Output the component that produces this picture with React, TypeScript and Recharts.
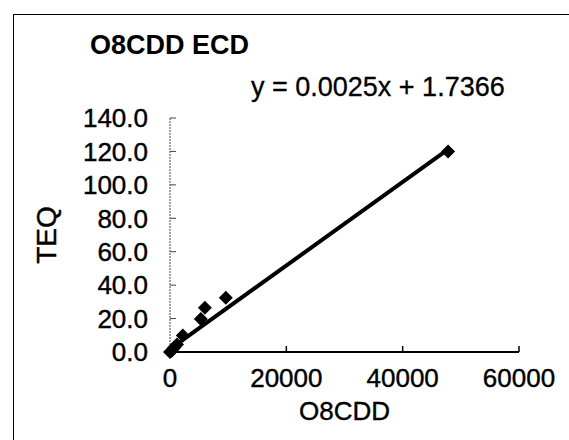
import { Scatter, ScatterChart, XAxis, YAxis } from "recharts";

const O8CDD = [0, 300, 700, 1200, 2200, 5300, 6000, 9600, 47800];
const TEQ = [0, 0.8, 2.5, 4.5, 9.8, 19.7, 26.5, 32.5, 120];
const SLOPE = 0.0025;
const INTERCEPT = 1.7366;
const TREND_X = [0, 47800];
const X_TICKS = [0, 20000, 40000, 60000];
const Y_TICKS = [0, 20, 40, 60, 80, 100, 120, 140];

const points = O8CDD.map((x, i) => ({ x, y: TEQ[i] }));
const trend = TREND_X.map((x) => ({ x, y: SLOPE * x + INTERCEPT }));

const FONT = "'Liberation Sans', Arial, sans-serif";
const tickStyle = {
  fill: "#000",
  fontSize: 26,
  fontFamily: FONT,
  stroke: "#000",
  strokeWidth: 0.4,
};

function Diamond(props: { cx?: number; cy?: number }) {
  const { cx = 0, cy = 0 } = props;
  const r = 7;
  return (
    <polygon
      points={`${cx},${cy - r} ${cx + r},${cy} ${cx},${cy + r} ${cx - r},${cy}`}
      fill="#000"
    />
  );
}

export default function App() {
  return (
    <div
      style={{
        position: "absolute",
        left: 0,
        top: 0,
        width: 569,
        height: 440,
        overflow: "hidden",
        background: "#fff",
        fontFamily: FONT,
      }}
    >
      <div
        style={{
          position: "absolute",
          left: 13,
          top: 14,
          width: 600,
          height: 500,
          borderLeft: "1.5px solid #000",
          borderTop: "1.5px solid #000",
        }}
      />
      <div
        style={{
          position: "absolute",
          left: 90,
          top: 29,
          fontSize: 27,
          fontWeight: "bold",
          lineHeight: "32px",
        }}
      >
        O8CDD ECD
      </div>
      <div
        style={{
          position: "absolute",
          left: 251,
          top: 71,
          fontSize: 27,
          lineHeight: "32px",
          WebkitTextStroke: "0.3px #000",
        }}
      >
        y = 0.0025x + 1.7366
      </div>
      <ScatterChart
        width={569}
        height={440}
        margin={{ top: 118, right: 50, bottom: 58, left: 40 }}
        style={{ position: "absolute", left: 0, top: 0 }}
      >
        <XAxis
          type="number"
          dataKey="x"
          domain={[0, 60000]}
          ticks={X_TICKS}
          interval={0}
          height={30}
          tickSize={-6}
          tickMargin={23}
          axisLine={{ stroke: "#000", strokeWidth: 2 }}
          tickLine={{ stroke: "#000", strokeWidth: 1.5 }}
          tick={tickStyle}
          label={{
            value: "O8CDD",
            position: "insideBottom",
            offset: -38,
            ...tickStyle,
          }}
        />
        <YAxis
          type="number"
          dataKey="y"
          domain={[0, 140]}
          ticks={Y_TICKS}
          interval={0}
          width={130}
          tickSize={-6}
          tickMargin={28}
          tickFormatter={(v: number) => v.toFixed(1)}
          axisLine={{ stroke: "#444", strokeWidth: 1, strokeDasharray: "2 1" }}
          tickLine={{ stroke: "#444", strokeWidth: 1 }}
          tick={tickStyle}
          label={{
            value: "TEQ",
            angle: -90,
            position: "insideLeft",
            offset: 0,
            dx: 6,
            textAnchor: "middle",
            ...tickStyle,
            fontSize: 28,
          }}
        />
        <Scatter
          data={trend}
          line={{ stroke: "#000", strokeWidth: 4 }}
          shape={() => null}
          isAnimationActive={false}
        />
        <Scatter data={points} shape={<Diamond />} isAnimationActive={false} />
      </ScatterChart>
    </div>
  );
}
